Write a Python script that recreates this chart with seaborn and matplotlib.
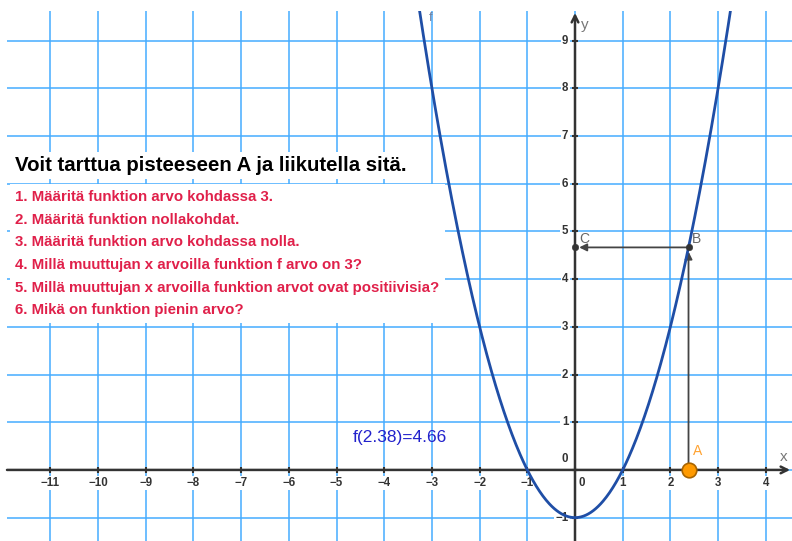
import numpy as np
import pandas as pd
import matplotlib.pyplot as plt
import seaborn as sns

sns.set_style('white')
plt.rcParams['font.family'] = ['Liberation Sans', 'DejaVu Sans']

# f(x) = a*x^2 + b*x + c
coef_a, coef_b, coef_c = 1, 0, -1
point_a = 2.38
x_ticks = list(range(-11, 5))
y_ticks = list(range(-1, 10))

title = 'Voit tarttua pisteeseen A ja liikutella sitä.'
tasks = [
    '1. Määritä funktion arvo kohdassa 3.',
    '2. Määritä funktion nollakohdat.',
    '3. Määritä funktion arvo kohdassa nolla.',
    '4. Millä muuttujan x arvoilla funktion f arvo on 3?',
    '5. Millä muuttujan x arvoilla funktion arvot ovat positiivisia?',
    '6. Mikä on funktion pienin arvo?',
]


def f(x):
    return coef_a * x ** 2 + coef_b * x + coef_c


xmin, xmax, ymin, ymax = -11.91, 4.55, -1.49, 9.62
grid_col = '#45acff'
axis_col = '#333333'

fig = plt.figure(figsize=(7.92, 5.41), dpi=100)
ax = fig.add_axes([7 / 792, 0, 785 / 792, 530 / 541])
ax.set_xlim(xmin, xmax)
ax.set_ylim(ymin, ymax)
for s in ax.spines.values():
    s.set_visible(False)
ax.set_xticks([])
ax.set_yticks([])

# grid
for x in x_ticks:
    ax.axvline(x, color=grid_col, lw=1.1, zorder=0)
for y in y_ticks:
    ax.axhline(y, color=grid_col, lw=1.1, zorder=0)

# axes with arrows
ax.annotate('', xy=(4.51, 0), xytext=(xmin, 0),
            arrowprops=dict(arrowstyle='->', lw=1.8, color=axis_col, mutation_scale=12, shrinkA=0, shrinkB=0), zorder=3)
ax.annotate('', xy=(0, 9.58), xytext=(0, ymin),
            arrowprops=dict(arrowstyle='->', lw=1.8, color=axis_col, mutation_scale=12, shrinkA=0, shrinkB=0), zorder=3)
ax.plot(x_ticks, [0] * len(x_ticks), '|', ms=4, mew=1.5, color=axis_col, zorder=3)
ax.plot([0] * len(y_ticks), y_ticks, '_', ms=4, mew=1.5, color=axis_col, zorder=3)

lbl = dict(fontsize=8.3, fontweight='bold', color=axis_col, zorder=4,
           bbox=dict(facecolor='white', edgecolor='none', pad=1))
for x in x_ticks:
    if x == 0:
        ax.text(0.15, -0.15, '0', ha='center', va='top', **lbl)
    else:
        ax.text(x, -0.15, '\u2212%d' % -x if x < 0 else str(x), ha='center', va='top', **lbl)
for y in y_ticks:
    if y == 0:
        ax.text(-0.14, 0.1, '0', ha='right', va='bottom', **lbl)
    else:
        ax.text(-0.14, y, '\u2212%d' % -y if y < 0 else str(y), ha='right', va='center', **lbl)
ax.text(4.3, 0.12, 'x', fontsize=11, color='#777777', ha='left', va='bottom')
ax.text(0.12, 9.33, 'y', fontsize=11, color='#777777', ha='left', va='center')

# function curve
xs = np.linspace(-3.4, 3.4, 400)
curve = pd.DataFrame({'x': xs, 'y': f(xs)})
sns.lineplot(data=curve, x='x', y='y', ax=ax, color='#1f4ea6', lw=2, zorder=5)
ax.text(-3.02, 9.48, 'f', fontsize=9, color='#7080a0', ha='center', va='center')

# construction A -> B -> C
fa = f(point_a)
arrow = dict(arrowstyle='-|>', lw=1.3, color='#444444', mutation_scale=11, shrinkA=0, shrinkB=3)
ax.annotate('', xy=(point_a, fa), xytext=(point_a, 0), arrowprops=arrow, zorder=4)
ax.annotate('', xy=(0, fa), xytext=(point_a, fa), arrowprops=arrow, zorder=4)
pts = pd.DataFrame({'x': [point_a, 0], 'y': [fa, fa]})
sns.scatterplot(data=pts, x='x', y='y', ax=ax, color='#333333', s=22, edgecolor='#333333', zorder=6)
sns.scatterplot(x=[point_a], y=[0], ax=ax, color='#ff9a00', s=110, edgecolor='#a86400', linewidth=1.2, zorder=7)
ax.text(point_a + 0.1, 0.25, 'A', fontsize=10, color='#ffa230', ha='left', va='bottom')
ax.text(point_a + 0.08, fa + 0.02, 'B', fontsize=10, color='#666666', ha='left', va='bottom')
ax.text(0.08, fa + 0.02, 'C', fontsize=10, color='#666666', ha='left', va='bottom')

ax.text(-4.67, 0.67, 'f(%.2f)=%.2f' % (point_a, fa), fontsize=12.5, color='#2222cc', ha='left', va='center')

# text box
ax.text(-11.74, 6.39, title, fontsize=14.7, fontweight='bold', color='black', ha='left', va='center',
        bbox=dict(facecolor='white', edgecolor='none', pad=3))
ax.text(-11.74, 5.87, '\n'.join(tasks), fontsize=10.8, fontweight='bold', color='#e0204a', ha='left', va='top',
        linespacing=1.79, bbox=dict(facecolor='white', edgecolor='none', pad=4))

ax.set_xlabel('')
ax.set_ylabel('')
plt.savefig('out.png', dpi=100)
